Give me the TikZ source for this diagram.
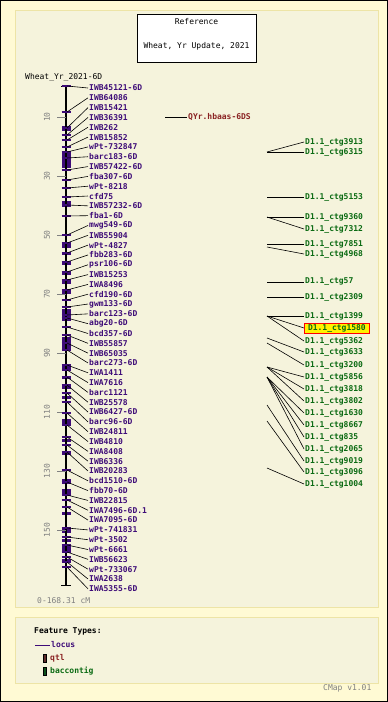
\documentclass[tikz,border=0pt]{standalone}
\usepackage{xcolor}
\usepackage{fontspec}
\setmonofont{DejaVu Sans Mono}
\usepackage{tikz}
\usetikzlibrary{positioning, calc}
\definecolor{outerbg}{HTML}{FFFAD4}
\definecolor{panelbg}{HTML}{F5F3DC}
\definecolor{panelline}{HTML}{EDE4A6}
\definecolor{locuspurple}{HTML}{3E0C78}
\definecolor{qtlred}{HTML}{8A2222}
\definecolor{qtlbox}{HTML}{5C2A2A}
\definecolor{ctggreen}{HTML}{0A6A12}
\definecolor{ctgbox}{HTML}{0B4F1A}
\definecolor{axisgrey}{HTML}{808080}

\tikzset{
	mapfont/.style={font=\ttfamily\fontsize{8}{9}\selectfont},
	boldfont/.style={font=\ttfamily\bfseries\fontsize{8}{9}\selectfont},
	locuslabel/.style={boldfont, text=locuspurple, anchor=west, inner sep=1pt},
	ctglabel/.style={boldfont, text=ctggreen, anchor=west, inner sep=1pt},
	hilite/.style={draw=red, fill=yellow, line width=0.8pt},
	axislabel/.style={mapfont, text=axisgrey, rotate=90, inner sep=0pt},
	feature/.style={line width=0.6pt, black}
}

\begin{document}
\begin{tikzpicture}[x=1pt, y=-1pt]
	\useasboundingbox (0,0) rectangle (388,702);
	\fill[outerbg] (0,0) rectangle (388,702);
	\draw[black, line width=1pt] (0.5,0.5) rectangle (387.5,701.5);
	\draw[panelline, fill=panelbg, line width=1pt] (15,10) rectangle (378,607);
	\draw[panelline, fill=panelbg, line width=1pt] (15,617) rectangle (378,683);

	% title box
	\node[draw, fill=white, minimum width=119pt, minimum height=48pt, inner sep=0pt] (titlebox) at (196.5,38) {};
	\node[mapfont] (reftitle) at (196.5,22) {Reference};
	\node[mapfont] (mapset) at (196.5,46) {Wheat, Yr Update, 2021};
	\node[mapfont, anchor=west, inner sep=0pt] (mapname) at (25,77) {Wheat\_Yr\_2021-6D};

	% chromosome
	\pgfmathsetmacro{\barx}{66}
	\pgfmathsetmacro{\bartop}{86}
	\pgfmathsetmacro{\barbot}{585}
	\foreach \ya/\yb in {126/131, 151/168, 201/207, 242/248, 252/255, 262/265, 272/275, 281/284, 289/294, 309/321, 337/351, 366/370, 376/379, 386/389, 396/399, 419/426, 439/442, 452/455, 479/484, 489/494, 512/515, 529/533, 539/542, 545/551, 559/562}
		\fill[locuspurple] (\barx-4.5,\ya) rectangle (\barx+4.5,\yb);
	\draw[black, line width=2pt] (\barx,\bartop) -- (\barx,\barbot);
	\draw[black, line width=1pt] (\barx-5,\bartop) -- (\barx+5,\bartop);
	\draw[black, line width=1pt] (\barx-5,\barbot) -- (\barx+5,\barbot);

	% scale
	\foreach \cm in {10,30,...,150} {
		\pgfmathsetmacro{\ty}{87.5+2.95*\cm}
		\draw[axisgrey, line width=0.6pt] (57,\ty) -- (\barx,\ty);
		\node[axislabel] (tick\cm) at (47,\ty) {\cm};
	}
	\node[mapfont, text=axisgrey, anchor=west, inner sep=0pt] (range) at (37,601) {0-168.31 cM};

	% loci
	\foreach \lbl/\ym [count=\i from 0] in {IWB45121-6D/86, IWB64086/112, IWB15421/128, IWB36391/135, IWB262/140, IWB15852/147, wPt-732847/152, barc183-6D/158, IWB57422-6D/170, fba307-6D/180, wPt-8218/188, cfd75/197, IWB57232-6D/205, fba1-6D/216, mwg549-6D/235, IWB55904/243, wPt-4827/253, fbb283-6D/262, psr106-6D/272, IWB15253/280, IWA8496/290, cfd190-6D/300, gwm133-6D/307, barc123-6D/315, abg20-6D/318, bcd357-6D/327, IWB55857/335, IWB65035/343, barc273-6D/350, IWA1411/365, IWA7616/370, barc1121/377, IWB25578/385, IWB6427-6D/393, barc96-6D/402, IWB24811/413, IWB4810/425, IWA8408/437, IWB6336/445, IWB20283/452, bcd1510-6D/470, fbb70-6D/482, IWB22815/495, IWA7496-6D.1/500, IWA7095-6D/507, wPt-741831/528, wPt-3502/537, wPt-6661/545, IWB56623/552, wPt-733067/557, IWA2638/562, IWA5355-6D/567} {
		\pgfmathsetmacro{\ly}{88+9.82*\i}
		\draw[locuspurple, line width=1.2pt] (\barx-4.5,\ym) -- (\barx+4.5,\ym);
		\coordinate (b\i) at (\barx+1,\ym);
		\node[locuslabel] (m\i) at (88,\ly) {\lbl};
		\draw[feature] (b\i) -- (m\i.west);
	}

	% qtl
	\coordinate (qstart) at (165,117);
	\node[boldfont, text=qtlred, anchor=west, inner sep=1pt] (qtl) at (187,117) {QYr.hbaas-6DS};
	\draw[feature] (qstart) -- (qtl.west);

	% baccontigs
	\foreach \ctg/\ly/\sy in {3913/142/152, 6315/152/152, 5153/197/197, 9360/217/217, 7312/229/217, 7851/244/244, 4968/254/247, 57/282/282, 2309/297/297, 1399/316/316, 5362/341/316, 3633/352/338, 3200/365/343, 5856/377/367, 3818/389/367, 3802/401/367, 1630/413/377, 8667/425/377, 835/437/377, 2065/449/377, 9019/461/405, 3096/472/421, 1004/484/468} {
		\coordinate (s\ctg) at (267,\sy);
		\node[ctglabel] (c\ctg) at (304,\ly) {D1.1\_ctg\ctg};
		\draw[feature] (s\ctg) -- (c\ctg.west);
	}
	\coordinate (s1580) at (267,316);
	\node[ctglabel, hilite, minimum width=65pt] (c1580) at (304,328) {D1.1\_ctg1580};
	\draw[feature] (s1580) -- (c1580.west);

	% legend
	\node[boldfont, anchor=west, inner sep=0pt] (ftypes) at (34,631) {Feature Types:};
	\coordinate (lockey) at (35,645);
	\node[boldfont, text=locuspurple, anchor=west, inner sep=1pt] (locus) at (50,645) {locus};
	\draw[locuspurple, line width=0.8pt] (lockey) -- (locus.west);
	\node[draw=black, fill=qtlbox, minimum width=3pt, minimum height=8pt, inner sep=0pt, line width=0.4pt] (qtlkey) at (44.5,658) {};
	\node[boldfont, text=qtlred, anchor=west, inner sep=1pt] (qtlname) at (49,658) {qtl};
	\node[draw=black, fill=ctgbox, minimum width=3pt, minimum height=8pt, inner sep=0pt, line width=0.4pt] (ctgkey) at (44.5,671) {};
	\node[boldfont, text=ctggreen, anchor=west, inner sep=1pt] (ctgname) at (49,671) {baccontig};

	\node[mapfont, text=axisgrey, anchor=west, inner sep=0pt] (version) at (323,688) {CMap v1.01};
\end{tikzpicture}
\end{document}
